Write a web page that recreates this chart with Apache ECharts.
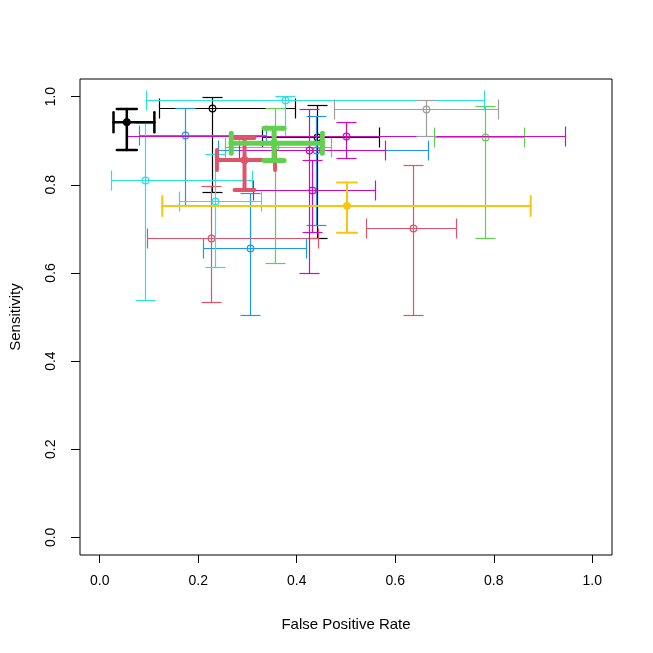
<!DOCTYPE html>
<html>
<head>
<meta charset="utf-8">
<script src="https://cdn.jsdelivr.net/npm/echarts@6.0.0/dist/echarts.min.js"></script>
<style>
  html, body { margin: 0; padding: 0; background: #ffffff; }
  #chart { width: 653px; height: 653px; }
</style>
</head>
<body>
<div id="chart"></div>
<script>
// study estimates with their confidence intervals
var studyGroup = ['black', 'black', 'pink', 'pink', 'green', 'green', 'blue', 'blue', 'blue',
                  'cyan', 'cyan', 'cyan', 'magenta', 'magenta', 'magenta', 'gray',
                  'yellow', 'blackSum', 'pinkSum', 'greenSum'];
var fpr     = [0.229, 0.443, 0.227, 0.637, 0.784, 0.356, 0.441, 0.174, 0.306,
               0.377, 0.092, 0.235, 0.425, 0.502, 0.433, 0.663, 0.502, 0.055, 0.294, 0.354];
var fprLow  = [0.121, 0.330, 0.097, 0.542, 0.679, 0.255, 0.241, 0.081, 0.211,
               0.094, 0.023, 0.162, 0.283, 0.057, 0.312, 0.477, 0.127, 0.028, 0.238, 0.267];
var fprHigh = [0.397, 0.568, 0.445, 0.724, 0.863, 0.471, 0.667, 0.339, 0.419,
               0.782, 0.310, 0.328, 0.580, 0.946, 0.560, 0.809, 0.875, 0.111, 0.356, 0.452];
var sens     = [0.974, 0.908, 0.679, 0.701, 0.908, 0.885, 0.877, 0.912, 0.656,
                0.992, 0.809, 0.763, 0.877, 0.910, 0.786, 0.971, 0.752, 0.942, 0.856, 0.894];
var sensLow  = [0.783, 0.679, 0.533, 0.504, 0.679, 0.622, 0.708, 0.752, 0.504,
                0.910, 0.538, 0.613, 0.599, 0.860, 0.692, 0.910, 0.691, 0.879, 0.788, 0.855];
var sensHigh = [0.998, 0.979, 0.797, 0.844, 0.978, 0.974, 0.956, 0.974, 0.781,
                1.000, 0.940, 0.869, 0.971, 0.942, 0.856, 0.992, 0.805, 0.972, 0.906, 0.928];
var tickValues = [0, 0.2, 0.4, 0.6, 0.8, 1.0];

// look of each group
var groupStyle = {
  black:    { color: '#000000', width: 1,   filled: false },
  pink:     { color: '#DF536B', width: 1,   filled: false },
  green:    { color: '#61D04F', width: 1,   filled: false },
  blue:     { color: '#2297E6', width: 1,   filled: false },
  cyan:     { color: '#28E2E5', width: 1,   filled: false },
  magenta:  { color: '#CD0BBC', width: 1,   filled: false },
  gray:     { color: '#9E9E9E', width: 1,   filled: false },
  yellow:   { color: '#F5C710', width: 2,   filled: true },
  blackSum: { color: '#000000', width: 2.5, filled: true },
  pinkSum:  { color: '#DF536B', width: 4,   filled: true },
  greenSum: { color: '#61D04F', width: 5,   filled: true }
};

var data = [];
for (var i = 0; i < fpr.length; i++) {
  data.push([fpr[i], sens[i], fprLow[i], fprHigh[i], sensLow[i], sensHigh[i], i]);
}

function renderStudy(params, api) {
  var st = groupStyle[studyGroup[api.value(6)]];
  var thin = st.width === 1;
  // snap thin lines onto the pixel grid so they stay crisp
  var px = thin ? function (v) { return Math.round(v - 0.5) + 0.5; }
                : function (v) { return v; };
  var c = api.coord([api.value(0), api.value(1)]);
  var cx = px(c[0]), cy = px(c[1]);
  var xl = px(api.coord([api.value(2), api.value(1)])[0]);
  var xh = px(api.coord([api.value(3), api.value(1)])[0]);
  var yl = px(api.coord([api.value(0), api.value(4)])[1]);
  var yh = px(api.coord([api.value(0), api.value(5)])[1]);
  var cap = 10;
  var ls = { stroke: st.color, lineWidth: thin ? 1.2 : st.width, lineCap: thin ? 'butt' : 'round' };
  function seg(x1, y1, x2, y2) {
    return { type: 'line', shape: { x1: x1, y1: y1, x2: x2, y2: y2 }, style: ls };
  }
  return {
    type: 'group',
    children: [
      seg(xl, cy, xh, cy),
      seg(xl, cy - cap, xl, cy + cap),
      seg(xh, cy - cap, xh, cy + cap),
      seg(cx, yl, cx, yh),
      seg(cx - cap, yl, cx + cap, yl),
      seg(cx - cap, yh, cx + cap, yh),
      {
        type: 'circle',
        shape: { cx: cx, cy: cy, r: st.filled ? 3.6 : 3.3 },
        style: st.filled ? { fill: st.color, stroke: st.color, lineWidth: 1 }
                         : { fill: 'none', stroke: st.color, lineWidth: 1.2 }
      }
    ]
  };
}

var chart = echarts.init(document.getElementById('chart'), null, { renderer: 'canvas' });

var fontName = 'Liberation Sans, Arial, sans-serif';

var option = {
  backgroundColor: '#ffffff',
  animation: false,
  grid: {
    left: 78, right: 41, top: 79, bottom: 98,
    show: true, borderColor: '#000000', borderWidth: 1, backgroundColor: 'transparent'
  },
  xAxis: {
    type: 'value', min: -0.04, max: 1.04,
    name: 'False Positive Rate', nameLocation: 'middle', nameGap: 62,
    nameTextStyle: { fontFamily: fontName, color: '#000', fontSize: 15 },
    axisLine: { show: false, onZero: false },
    splitLine: { show: false },
    axisTick: { show: true, inside: false, length: 8, customValues: tickValues,
                lineStyle: { color: '#000', width: 1 } },
    axisLabel: { customValues: tickValues, margin: 19, fontSize: 14,
                 fontFamily: fontName, color: '#000',
                 formatter: function (v) { return v.toFixed(1); } }
  },
  yAxis: {
    type: 'value', min: -0.04, max: 1.04,
    name: 'Sensitivity', nameLocation: 'middle', nameGap: 57, nameRotate: 90,
    nameTextStyle: { fontFamily: fontName, color: '#000', fontSize: 15 },
    axisLine: { show: false, onZero: false },
    splitLine: { show: false },
    axisTick: { show: true, inside: false, length: 9, customValues: tickValues,
                lineStyle: { color: '#000', width: 1 } },
    axisLabel: { customValues: tickValues, margin: 22, fontSize: 14, rotate: 90,
                 fontFamily: fontName, color: '#000',
                 formatter: function (v) { return v.toFixed(1); } }
  },
  series: [{
    type: 'custom',
    name: 'studies',
    renderItem: renderStudy,
    encode: { x: 0, y: 1 },
    data: data,
    clip: false
  }]
};

chart.setOption(option);
</script>
</body>
</html>
